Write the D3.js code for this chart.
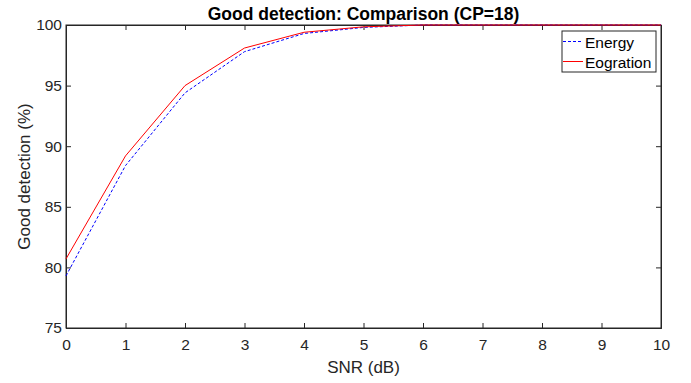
<!DOCTYPE html>
<html><head><meta charset="utf-8">
<script src="https://cdn.jsdelivr.net/npm/d3@7"></script>
<style>body{margin:0;background:#fff}svg{display:block;font-family:"Liberation Sans",Arial,sans-serif}</style>
</head><body><svg id="c" width="691" height="383"></svg>
<script>
const snr = [0,1,2,3,4,5,6,7,8,9,10];
const energy = [79.3,88.4,94.4,97.8,99.3,99.8,100,100,100,100,100];
const eogration = [80.7,89.2,95.0,98.1,99.4,99.85,100,100,100,100,100];
const xTicks = [0,1,2,3,4,5,6,7,8,9,10];
const yTicks = [75,80,85,90,95,100];

const svg = d3.select("#c");
const L=66,R=661,T=25,B=328;
const x = d3.scaleLinear().domain([0,10]).range([L,R]);
const y = d3.scaleLinear().domain([75,100]).range([B,T]);
const axc="#262626";

svg.append("rect").attr("x",L).attr("y",T).attr("width",R-L).attr("height",B-T)
  .attr("fill","none").attr("stroke",axc).attr("stroke-width",1);

const ax = d3.axisBottom(x).tickValues(xTicks).tickSize(-5).tickPadding(11).tickFormat(d3.format("d"));
const gx = svg.append("g").attr("transform",`translate(0,${B})`).call(ax);
const ay = d3.axisLeft(y).tickValues(yTicks).tickSize(-5).tickPadding(4).tickFormat(d3.format("d"));
const gy = svg.append("g").attr("transform",`translate(${L},0)`).call(ay);
const gxt = svg.append("g").attr("transform",`translate(0,${T})`).call(d3.axisTop(x).tickValues(xTicks).tickSize(-5).tickFormat(""));
const gyr = svg.append("g").attr("transform",`translate(${R},0)`).call(d3.axisRight(y).tickValues(yTicks).tickSize(-5).tickFormat(""));
[gx,gy,gxt,gyr].forEach(g=>{
  g.select(".domain").attr("stroke",axc);
  g.selectAll(".tick line").attr("stroke",axc);
  g.selectAll("text").attr("fill",axc).attr("font-size",15.5).attr("font-family","Liberation Sans, Arial, sans-serif");
});

const line = d3.line().x((d,i)=>x(snr[i])).y(d=>y(d));
svg.append("path").datum(energy).attr("d",line).attr("fill","none").attr("stroke","#0000ff").attr("stroke-width",1).attr("stroke-dasharray","3,2");
svg.append("path").datum(eogration).attr("d",line).attr("fill","none").attr("stroke","#ff0000").attr("stroke-width",1);

svg.append("text").attr("x",(L+R)/2).attr("y",20).attr("text-anchor","middle").attr("font-size",17.5).attr("font-weight","bold").attr("fill","#000").text("Good detection: Comparison (CP=18)");
svg.append("text").attr("x",(L+R)/2).attr("y",373).attr("text-anchor","middle").attr("font-size",17).attr("fill",axc).text("SNR (dB)");
svg.append("text").attr("transform",`translate(30,${(T+B)/2}) rotate(-90)`).attr("text-anchor","middle").attr("font-size",17).attr("fill",axc).text("Good detection (%)");

const lg = svg.append("g");
lg.append("rect").attr("x",562).attr("y",31).attr("width",94).attr("height",41).attr("fill","#fff").attr("stroke",axc).attr("stroke-width",1);
const items=[["Energy","#0000ff","3,2"],["Eogration","#ff0000",null]];
items.forEach((it,i)=>{
  const yy=41.5+i*20;
  const l=lg.append("line").attr("x1",563).attr("x2",583).attr("y1",yy).attr("y2",yy).attr("stroke",it[1]).attr("stroke-width",1);
  if(it[2]) l.attr("stroke-dasharray",it[2]);
  lg.append("text").attr("x",585).attr("y",yy+6).attr("font-size",15.5).attr("fill","#000").text(it[0]);
});
</script></body></html>
